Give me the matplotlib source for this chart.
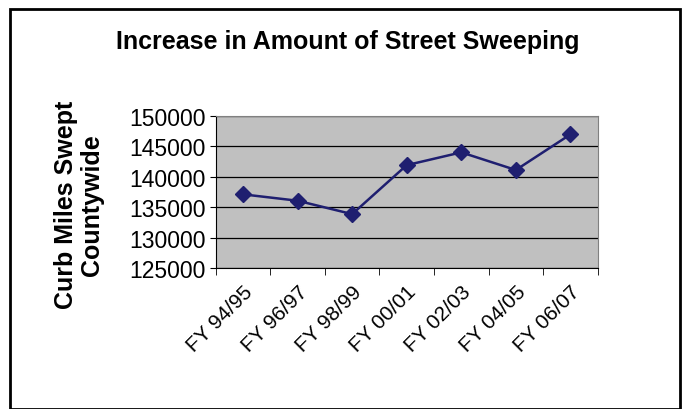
import matplotlib
matplotlib.use("Agg")
import matplotlib.pyplot as plt
from matplotlib.patches import Rectangle
import numpy as np

plt.rcParams['font.family'] = ['Liberation Sans', 'DejaVu Sans']

years = ["FY 94/95", "FY 96/97", "FY 98/99", "FY 00/01", "FY 02/03", "FY 04/05", "FY 06/07"]
miles = [137100, 136050, 133850, 141900, 144000, 141100, 146950]
y_ticks = [125000, 130000, 135000, 140000, 145000, 150000]

LINE_COLOR = "#1F1F70"

fig = plt.figure(figsize=(6.87, 4.10), dpi=100)
ax = fig.add_axes([0.314, 0.344, 0.556, 0.371])

x = np.arange(len(years))
ax.plot(x, miles, color=LINE_COLOR, linewidth=1.8, marker='D', markersize=8,
        markerfacecolor=LINE_COLOR, markeredgecolor=LINE_COLOR, zorder=3)

ax.set_facecolor("#C0C0C0")
ax.set_xlim(-0.5, len(years) - 0.5)
ax.set_ylim(125000, 150000)
ax.set_yticks(y_ticks)
ax.set_yticklabels([str(v) for v in y_ticks], fontsize=16.5)
ax.yaxis.grid(True, color="black", linewidth=0.9)
ax.set_axisbelow(True)

# category labels at centers, tick marks at boundaries
ax.set_xticks(x)
ax.set_xticklabels(years, rotation=45, ha='right', rotation_mode='anchor', fontsize=15)
ax.tick_params(axis='x', length=0, pad=10)
ax.set_xticks(np.arange(-0.5, len(years)), minor=True)
ax.tick_params(axis='x', which='minor', length=5, direction='out', color='black')
ax.tick_params(axis='y', length=4, direction='out', pad=3)

for side in ['top', 'right']:
    ax.spines[side].set_color("#808080")
for side in ['left', 'bottom']:
    ax.spines[side].set_color("black")

fig.text(0.506, 0.897, "Increase in Amount of Street Sweeping", ha='center', va='center',
         fontsize=18, fontweight='bold')
fig.text(0.115, 0.5, "Curb Miles Swept\nCountywide", ha='center', va='center',
         rotation=90, fontsize=18, fontweight='bold', linespacing=1.15)

fig.patches.append(Rectangle((0.015, 0.0), 0.975, 0.975, transform=fig.transFigure,
                             fill=False, edgecolor='black', linewidth=2))

fig.savefig("out.png", dpi=100)
